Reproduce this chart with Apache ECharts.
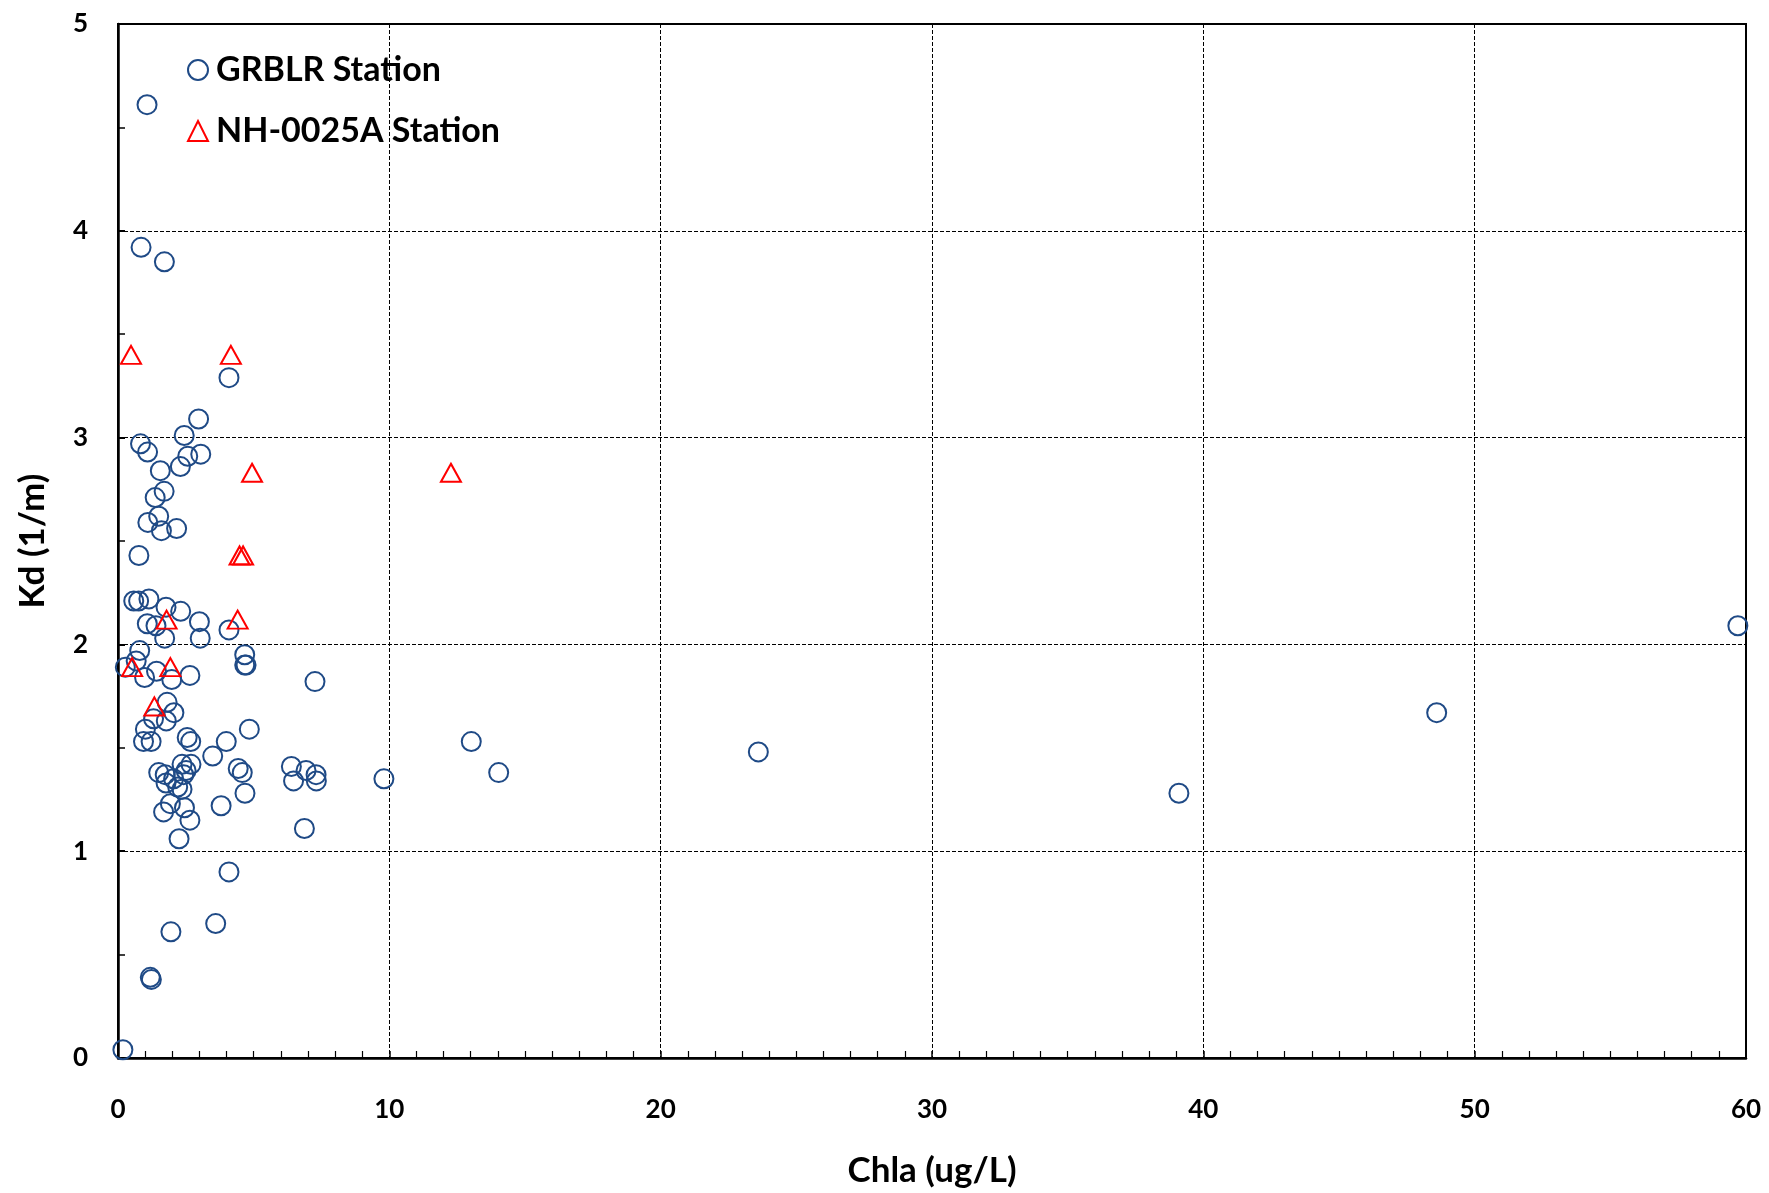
<!DOCTYPE html>
<html>
<head>
<meta charset="utf-8">
<script src="https://cdn.jsdelivr.net/npm/echarts@6/dist/echarts.min.js"></script>
<style>
  html, body { margin: 0; padding: 0; background: #fff; }
  #chart { width: 1769px; height: 1193px; }
</style>
</head>
<body>
<div id="chart"></div>
<script>
// GRBLR Station (open circles)
var grblrChla = [1.07, 0.85, 1.71, 4.09, 2.97, 2.44, 0.83, 1.09, 2.57, 3.05, 2.30, 1.56, 1.70, 1.37, 1.50, 1.10, 1.60, 2.16, 0.77,
  0.58, 0.76, 1.14, 1.77, 2.31, 1.08, 1.40, 3.00, 4.09, 1.72, 3.03, 0.80, 0.67, 0.27, 0.98, 1.42, 1.98, 2.65, 4.67, 4.67, 4.72, 7.26,
  1.81, 2.06, 1.78, 1.31, 1.01, 4.84, 0.94, 1.22, 2.55, 2.68, 3.99, 13.02, 3.49, 6.39, 4.43, 4.58, 6.93, 7.30, 7.31, 6.47, 14.03, 9.80,
  1.50, 1.74, 1.77, 2.05, 2.36, 2.69, 2.51, 2.42, 2.20, 2.36, 1.93, 1.68, 2.45, 2.65, 2.25, 3.80, 4.68, 6.87, 4.09, 3.60, 1.95,
  1.19, 1.23, 0.18, 23.6, 39.1, 48.6, 59.7];
var grblrKd = [4.61, 3.92, 3.85, 3.29, 3.09, 3.01, 2.97, 2.93, 2.91, 2.92, 2.86, 2.84, 2.74, 2.71, 2.62, 2.59, 2.55, 2.56, 2.43,
  2.21, 2.21, 2.22, 2.18, 2.16, 2.10, 2.09, 2.11, 2.07, 2.03, 2.03, 1.97, 1.92, 1.89, 1.84, 1.87, 1.83, 1.85, 1.95, 1.90, 1.90, 1.82,
  1.72, 1.67, 1.63, 1.64, 1.59, 1.59, 1.53, 1.53, 1.55, 1.53, 1.53, 1.53, 1.46, 1.41, 1.40, 1.38, 1.39, 1.37, 1.34, 1.34, 1.38, 1.35,
  1.38, 1.37, 1.33, 1.35, 1.42, 1.42, 1.39, 1.37, 1.31, 1.30, 1.23, 1.19, 1.21, 1.15, 1.06, 1.22, 1.28, 1.11, 0.90, 0.65, 0.61,
  0.39, 0.38, 0.04, 1.48, 1.28, 1.67, 2.09];

// NH-0025A Station (open triangles)
var nhChla = [0.48, 4.16, 4.94, 12.27, 4.48, 4.61, 1.79, 4.41, 0.52, 1.93, 1.34];
var nhKd = [3.40, 3.40, 2.83, 2.83, 2.43, 2.43, 2.12, 2.12, 1.89, 1.89, 1.70];

var seriesNames = ['GRBLR Station', 'NH-0025A Station'];
var xTicks = [0, 10, 20, 30, 40, 50, 60];
var yTicks = [0, 1, 2, 3, 4, 5];

function pairs(xs, ys) {
  return xs.map(function (x, i) { return [x, ys[i]]; });
}

var font = 'Lato, "Open Sans", "DejaVu Sans", sans-serif';
var chart = echarts.init(document.getElementById('chart'));

var option = {
  backgroundColor: '#fff',
  animation: false,
  grid: {
    left: 118, right: 23, top: 24, bottom: 135,
    show: true, borderColor: '#000', borderWidth: 2
  },
  legend: {
    orient: 'vertical',
    left: 182, top: 48,
    itemWidth: 20, itemHeight: 20,
    itemGap: 27,
    data: [
      { name: seriesNames[0], icon: 'circle' },
      { name: seriesNames[1], icon: 'triangle' }
    ],
    textStyle: { fontFamily: font, fontWeight: 'bold', fontSize: 34, lineHeight: 34, color: '#000', padding: [0, 0, 0, 3] }
  },
  xAxis: {
    type: 'value',
    min: xTicks[0], max: xTicks[xTicks.length - 1], interval: 10,
    name: 'Chla (ug/L)',
    nameLocation: 'middle', nameGap: 95,
    nameTextStyle: { fontFamily: font, fontWeight: 'bold', fontSize: 35, color: '#000' },
    axisLine: { lineStyle: { color: '#000', width: 2.5 } },
    axisTick: { show: true, inside: true, length: 7, lineStyle: { color: '#000', width: 1.5 } },
    minorTick: { show: true, splitNumber: 10, length: 7, lineStyle: { color: '#000', width: 1.2 } },
    axisLabel: { fontFamily: font, fontWeight: 'bold', fontSize: 26, color: '#000', margin: 39 },
    splitLine: { show: true, lineStyle: { color: '#000', width: 1, type: [4, 2] } }
  },
  yAxis: {
    type: 'value',
    min: yTicks[0], max: yTicks[yTicks.length - 1], interval: 1,
    name: 'Kd (1/m)',
    nameLocation: 'middle', nameGap: 68,
    nameTextStyle: { fontFamily: font, fontWeight: 'bold', fontSize: 35, color: '#000' },
    axisLine: { lineStyle: { color: '#000', width: 2.5 } },
    axisTick: { show: true, inside: true, length: 7, lineStyle: { color: '#000', width: 2 } },
    minorTick: { show: true, splitNumber: 2, length: 7, lineStyle: { color: '#000', width: 1.5 } },
    axisLabel: { fontFamily: font, fontWeight: 'bold', fontSize: 26, color: '#000', margin: 30 },
    splitLine: { show: true, lineStyle: { color: '#000', width: 1, type: [4, 2] } }
  },
  series: [
    {
      name: seriesNames[0],
      type: 'scatter',
      symbol: 'circle',
      symbolSize: 19,
      itemStyle: { color: 'rgba(255,255,255,0)', borderColor: '#1F4A86', borderWidth: 2, opacity: 1 },
      data: pairs(grblrChla, grblrKd),
      z: 3
    },
    {
      name: seriesNames[1],
      type: 'scatter',
      symbol: 'triangle',
      symbolSize: [20, 18],
      itemStyle: { color: 'rgba(255,255,255,0)', borderColor: '#FF0000', borderWidth: 2, opacity: 1 },
      data: pairs(nhChla, nhKd),
      z: 4
    }
  ]
};

chart.setOption(option);
</script>
</body>
</html>
